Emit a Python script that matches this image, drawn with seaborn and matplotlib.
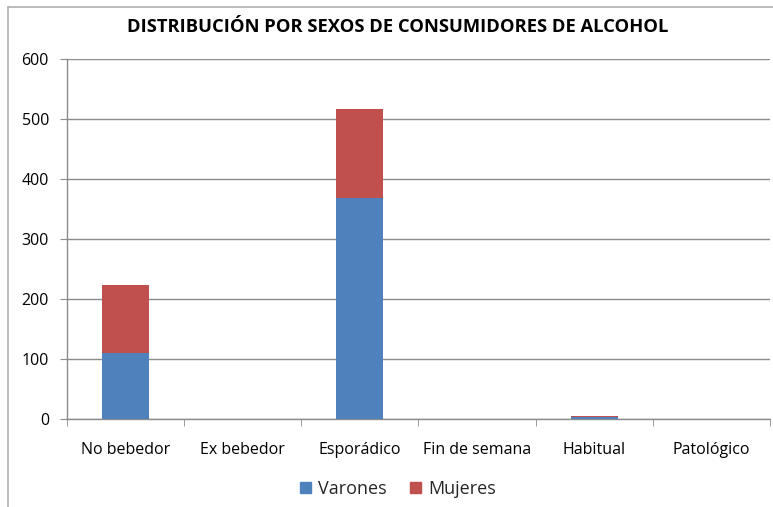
import numpy as np
import pandas as pd
import matplotlib.pyplot as plt
import seaborn as sns
from matplotlib.lines import Line2D
from matplotlib.patches import Patch

categorias = ['No bebedor', 'Ex bebedor', 'Esporádico', 'Fin de semana', 'Habitual', 'Patológico']
varones = [110, 0, 368, 0, 3, 0]
mujeres = [113, 0, 148, 0, 2, 0]

azul = '#4F81BD'
rojo = '#C0504D'

df = pd.DataFrame({'categoria': categorias, 'Varones': varones, 'Mujeres': mujeres})
df['total'] = df['Varones'] + df['Mujeres']

sns.set_style('white')
plt.rcParams['font.family'] = ['Open Sans', 'DejaVu Sans']

fig = plt.figure(figsize=(7.73, 5.07), dpi=100)
ax = fig.add_axes([0.0867, 0.1736, 0.9093, 0.71])

# stacked: total in red underneath, varones in blue on top of it
sns.barplot(data=df, x='categoria', y='total', color=rojo, width=0.4,
            saturation=1, linewidth=0, ax=ax, zorder=3)
sns.barplot(data=df, x='categoria', y='Varones', color=azul, width=0.4,
            saturation=1, linewidth=0, ax=ax, zorder=4)

ax.set_ylim(0, 600)
ax.set_xlim(-0.5, 5.5)
ax.set_yticks(np.arange(0, 601, 100))
ax.set_xlabel('')
ax.set_ylabel('')
ax.yaxis.grid(True, color='#8c8c8c', linewidth=1, zorder=0)
ax.set_axisbelow(True)

for s in ['top', 'right']:
    ax.spines[s].set_visible(False)
for s in ['left', 'bottom']:
    ax.spines[s].set_color('#8c8c8c')
    ax.spines[s].set_linewidth(1)

ax.tick_params(axis='y', left=True, length=5, color='#8c8c8c', labelsize=11.5,
               labelcolor='black', pad=8)
ax.tick_params(axis='x', bottom=False, labelsize=11.5, labelcolor='black', pad=13)
ax.set_xticks(np.arange(-0.5, 6, 1), minor=True)
ax.tick_params(axis='x', which='minor', bottom=True, length=5, color='#8c8c8c')

fig.text(0.515, 0.947, 'DISTRIBUCIÓN POR SEXOS DE CONSUMIDORES DE ALCOHOL',
         ha='center', va='center', fontsize=13.2, fontweight='bold', color='black')

handles = [Patch(color=azul, label='Varones'), Patch(color=rojo, label='Mujeres')]
fig.legend(handles=handles, loc='center', bbox_to_anchor=(0.515, 0.036), ncol=2,
           frameon=False, fontsize=13, handlelength=0.6, handleheight=0.6,
           handletextpad=0.4, columnspacing=1.3)

# chart frame (left and top edges visible)
fig.add_artist(Line2D([0.0105, 0.0105], [0, 0.986], color='#b0b0b0', lw=1.2))
fig.add_artist(Line2D([0.0105, 1], [0.986, 0.986], color='#b0b0b0', lw=1.2))

fig.savefig('out.png', dpi=100)
